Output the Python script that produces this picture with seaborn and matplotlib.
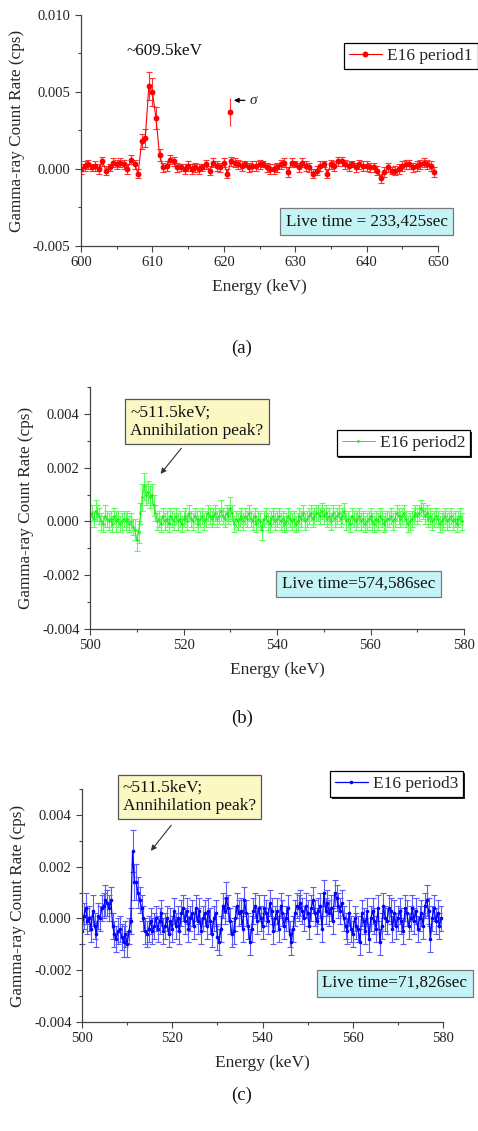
import numpy as np
import pandas as pd
import matplotlib
matplotlib.use("Agg")
import matplotlib.pyplot as plt
import seaborn as sns
from matplotlib.ticker import MultipleLocator, FuncFormatter
from matplotlib.patches import Rectangle
from matplotlib.transforms import IdentityTransform

# ---------------- data (count rates in units of 1e-4 cps) ----------------
# Panel (a): E16 period1, 600-649.5 keV, 0.5 keV bins
a_start, a_step = 600.0, 0.5
a_rate = [0, 2, 3, 1, 2, 0, 5, -1, 1, 4, 3, 4, 3, 0, 6, 3,
          -3, 18, 20, 54, 50, 33, 9, 1,
          2, 6, 5, 1, 1, 0, 2, 0, 1, 0, 1, 3, -1, 4, 2, 1, 4, -3, 5, 4,
          3, 2, 3, 1, 2, 2, 3, 3, 1, 0, 0, 1, 3, 4, -2, 4, 3, 1, 4, 2,
          1, -3, -1, 2, 3, -3, 3, 2, 5, 5, 3, 2, 3, 1, 3, 2, 2, 1, 1, -1,
          -6, -2, 1, -1, -1, 0, 2, 3, 3, 1, 2, 3, 4, 3, 2, -2]
a_err = [3, 3, 3, 2, 3, 3, 3, 3, 2, 3, 3, 3, 3, 3, 3, 3,
         3, 5, 6, 9, 9, 7, 4, 3,
         3, 3, 3, 3, 2, 3, 3, 3, 3, 3, 2, 3, 3, 3, 3, 3, 3, 3, 3, 3,
         3, 3, 2, 3, 3, 3, 3, 2, 3, 3, 3, 3, 3, 3, 3, 3, 2, 3, 3, 3,
         3, 3, 3, 3, 2, 3, 3, 3, 3, 3, 3, 3, 2, 3, 3, 3, 3, 3, 3, 3,
         3, 3, 3, 2, 3, 3, 3, 3, 3, 3, 3, 3, 3, 3, 3, 3]
sigma_energy, sigma_rate, sigma_err = 620.9, 37, 9

# Panel (b): E16 period2, 500-579.6 keV, 0.4 keV bins
b_start, b_step = 500.0, 0.4
b_rate = [2, 3, 1, 4, 3, 2, 0, -1, 2, 1, 0, 1, -1, 2, 0, 1, -1, 0, 1, 0,
          1, -1, 0, -2, -3, -7, -4, 3, 9, 13, 10, 11, 9, 10, 6, 3, 0, 1, -1, 2,
          0, 1, -1, 2, 1, 0, 2, 0, 1, -1, 1, 2, 0, 3, 1, 0, 2, 1, -1, 1,
          2, 0, 1, 3, 2, 1, 2, 3, 1, 2, 4, 2, 1, 3, 2, 5, 3, -1, 1, 0,
          1, 2, 0, 2, 1, 3, 1, 0, 2, -1, 1, 0, -3, 1, 2, 0, -1, 1, 2, 0,
          1, 2, 0, 1, -1, 0, 2, 1, 0, 1, -1, 0, 2, 1, 3, 0, 1, 2, 3, 1,
          2, 3, 3, 2, 4, 2, 3, 1, 2, 0, 3, 1, 2, 3, 1, 2, 4, 0, 1, -1,
          2, 1, 0, 1, 2, 0, 1, -1, 0, 1, 2, 0, -1, 1, 0, 2, 1, -1, 0, 1,
          1, 2, 0, 1, 3, 2, 1, 2, 3, 1, -1, 0, 1, 2, 3, 2, 3, 5, 4, 2,
          3, 1, 2, 0, 1, 2, 1, -1, 0, 1, 2, 0, 1, 2, 0, 1, -1, 1, 2, 0]
b_err = [4, 3, 3, 4, 3, 3, 3, 3, 4, 3, 3, 3, 3, 3, 4, 3, 3, 3, 3, 3,
         3, 3, 3, 3, 4, 4, 4, 4, 5, 5, 4, 4, 4, 4, 4, 3, 3, 3, 3, 3,
         3, 3, 3, 3, 3, 3, 3, 3, 3, 3, 3, 3, 3, 3, 3, 3, 3, 3, 3, 3,
         3, 3, 3, 3, 3, 3, 3, 3, 3, 3, 4, 3, 3, 3, 3, 4, 3, 3, 3, 3,
         3, 3, 3, 3, 3, 3, 3, 3, 3, 3, 3, 3, 4, 3, 3, 3, 3, 3, 3, 3,
         3, 3, 3, 3, 3, 3, 3, 3, 3, 3, 3, 3, 3, 3, 3, 3, 3, 3, 3, 3,
         3, 3, 3, 3, 3, 3, 3, 3, 3, 3, 3, 3, 3, 3, 3, 3, 3, 3, 3, 3,
         3, 3, 3, 3, 3, 3, 3, 3, 3, 3, 3, 3, 3, 3, 3, 3, 3, 3, 3, 3,
         3, 3, 3, 3, 3, 3, 3, 3, 3, 3, 3, 3, 3, 3, 3, 3, 3, 3, 3, 3,
         3, 3, 3, 3, 3, 3, 3, 3, 3, 3, 3, 3, 3, 3, 3, 3, 3, 3, 3, 3]

# Panel (c): E16 period3, 500-579.6 keV, 0.4 keV bins
c_start, c_step = 500.0, 0.4
c_rate = [-5, 1, 4, -1, 0, -4, 3, -3, -6, 1, 0, 4, 5, 7, 6, 4, 7, -3, -6, -8,
          -5, -4, -7, -9, -6, -10, -5, -1, 26, 14, 14, 10, 7, 4, 0, -5, -6, -4, -1, -5,
          -3, 0, -4, -1, 2, -5, -3, 0, -6, -1, -4, 3, -3, 0, -5, 2, 4, -1, 3, -4,
          0, 2, -3, 4, -1, 3, -5, 0, 2, -3, 3, -1, -6, 0, 2, -7, -9, -4, 5, 3,
          8, 4, -1, -6, -5, 0, 5, 2, 3, -4, 7, 2, -3, -9, -4, 3, 5, -1, 4, 0,
          -3, 4, 2, -1, 6, 3, -5, 0, 3, -4, 5, 2, -3, 0, 4, -6, -9, -4, 2, 5,
          4, 6, 3, 0, 5, 2, -3, 4, 7, 2, -1, 3, 5, -4, 10, 3, 6, 2, 4, -1,
          10, 8, 5, 3, 6, 0, -3, -5, 2, -4, -6, 0, -3, -4, -9, 2, -1, -5, 3, -8,
          0, 3, -1, -4, 4, -9, -3, 5, 0, -1, 4, 3, -4, 2, -3, 0, 3, -1, -5, 4,
          2, -3, 0, 4, -1, 3, -4, 0, 2, -3, 5, 7, 3, -8, 0, 4, -1, 2, -3, 0]
c_err = [5, 5, 6, 5, 5, 5, 6, 5, 5, 5, 5, 5, 5, 6, 5, 5, 5, 5, 5, 5,
         5, 5, 5, 6, 5, 5, 5, 5, 8, 7, 7, 6, 5, 5, 5, 5, 5, 5, 5, 5,
         5, 5, 5, 5, 5, 5, 5, 5, 5, 5, 5, 5, 5, 5, 5, 5, 5, 5, 5, 5,
         5, 5, 5, 5, 5, 5, 5, 5, 5, 5, 5, 5, 5, 5, 5, 5, 5, 5, 5, 5,
         6, 5, 5, 5, 5, 5, 5, 5, 5, 5, 5, 5, 5, 5, 5, 5, 5, 5, 5, 5,
         5, 5, 5, 5, 5, 5, 5, 5, 5, 5, 5, 5, 5, 5, 5, 5, 5, 5, 5, 5,
         5, 5, 5, 5, 5, 5, 5, 5, 5, 5, 5, 5, 5, 5, 5, 5, 5, 5, 5, 5,
         5, 5, 5, 5, 5, 5, 5, 5, 5, 5, 5, 5, 5, 5, 5, 5, 5, 5, 5, 5,
         5, 5, 5, 5, 5, 5, 5, 5, 5, 5, 5, 5, 5, 5, 5, 5, 5, 5, 5, 5,
         5, 5, 5, 5, 5, 5, 5, 5, 5, 5, 5, 6, 5, 5, 5, 5, 5, 5, 5, 5]

UNIT = 1e-4

# ---------------- style ----------------
sns.set_style("ticks")
plt.rcParams["font.family"] = ["Liberation Serif", "DejaVu Serif"]
plt.rcParams["axes.edgecolor"] = "#444444"
plt.rcParams["xtick.color"] = "#444444"
plt.rcParams["ytick.color"] = "#444444"
plt.rcParams["xtick.labelcolor"] = "#222222"
plt.rcParams["ytick.labelcolor"] = "#222222"

FIG_W, FIG_H = 478, 1131
fig = plt.figure(figsize=(FIG_W / 100, FIG_H / 100), dpi=100)


def ax_rect(left, top, right, bottom):
    return [left / FIG_W, 1 - bottom / FIG_H, (right - left) / FIG_W, (bottom - top) / FIG_H]


def make_df(start, step, rate, err):
    n = len(rate)
    return pd.DataFrame({
        "energy": [start + step * i for i in range(n)],
        "rate": [r * UNIT for r in rate],
        "err": [e * UNIT for e in err],
    })


def draw_panel(ax, df, color, ecolor, label, ms, lw, xlim, ylim, xmaj, xmin, ymaj, ymin):
    ax.errorbar(df["energy"], df["rate"], yerr=df["err"], fmt="none",
                ecolor=ecolor, elinewidth=0.8, capsize=2.3, capthick=0.8, zorder=1)
    sns.lineplot(data=df, x="energy", y="rate", ax=ax, color=color, marker="o",
                 markersize=ms, markeredgewidth=0, linewidth=lw,
                 estimator=None, sort=False, label=label, zorder=2)
    ax.set_xlim(*xlim)
    ax.set_ylim(*ylim)
    ax.xaxis.set_major_locator(MultipleLocator(xmaj))
    ax.xaxis.set_minor_locator(MultipleLocator(xmin))
    ax.yaxis.set_major_locator(MultipleLocator(ymaj))
    ax.yaxis.set_minor_locator(MultipleLocator(ymin))
    ax.yaxis.set_major_formatter(FuncFormatter(lambda v, p: f"{round(v, 6):.3f}".replace("-0.000", "0.000")))
    ax.tick_params(axis="both", which="major", labelsize=10.5, length=4, width=0.8, direction="out")
    ax.tick_params(axis="both", which="minor", length=2.5, width=0.8, direction="out")
    sns.despine(ax=ax)
    for s in ("left", "bottom"):
        ax.spines[s].set_linewidth(0.9)
    ax.set_xlabel("Energy (keV)", fontsize=12.5, labelpad=7)
    ax.set_ylabel("Gamma-ray Count Rate (cps)", fontsize=12.3, labelpad=6)


legends = []


def legend(ax, x, y):
    lg = ax.legend(loc="upper left", bbox_to_anchor=(x, y), borderaxespad=0,
                   fontsize=12.5, handlelength=1.9, handletextpad=0.3,
                   borderpad=0.28, fancybox=False, frameon=True, shadow=False)
    fr = lg.get_frame()
    fr.set_edgecolor("black")
    fr.set_linewidth(0.9)
    fr.set_alpha(1)
    lg.set_zorder(6)
    legends.append((ax, lg))
    return lg


def live_box(ax, x, y, txt):
    ax.text(x, y, txt, transform=ax.transAxes, ha="center", va="center", fontsize=12.3,
            color="#111111",
            bbox=dict(boxstyle="square,pad=0.32", facecolor="#c4f4f6", edgecolor="#7a7a7a", linewidth=0.9),
            zorder=5)


def note_box(ax, x, y, arrow_from, arrow_to):
    ax.text(x, y, "~511.5keV;\nAnnihilation peak?", transform=ax.transAxes, ha="center", va="center",
            multialignment="left", fontsize=12.5, linespacing=1.15, color="#111111",
            bbox=dict(boxstyle="square,pad=0.3", facecolor="#fbf8c4", edgecolor="#555555", linewidth=0.9),
            zorder=5)
    ax.annotate("", xy=arrow_to, xytext=arrow_from, xycoords="axes fraction", textcoords="axes fraction",
                arrowprops=dict(arrowstyle="-|>", color="#333333", lw=0.8, mutation_scale=8))


# ---------------- panel (a) ----------------
ax_a = fig.add_axes(ax_rect(81, 15, 438, 246))
df_a = make_df(a_start, a_step, a_rate, a_err)
draw_panel(ax_a, df_a, "#ff0000", "#ff3030", "E16 period1", 4.2, 0.8,
           (600, 650), (-0.005, 0.010), 10, 5, 0.005, 0.0025)
ax_a.errorbar([sigma_energy], [sigma_rate * UNIT], yerr=[sigma_err * UNIT], fmt="o",
              color="#ff0000", ecolor="#ff3030", markersize=4.2, markeredgewidth=0,
              elinewidth=0.8, capsize=2.3, capthick=0.8)
ax_a.annotate("σ", xy=(621.4, 0.00446), xytext=(623.6, 0.00446), xycoords="data",
              fontsize=11, fontstyle="italic", va="center", ha="left",
              arrowprops=dict(arrowstyle="-|>", color="black", lw=0.9, mutation_scale=7,
                              shrinkA=1, shrinkB=0))
ax_a.text(0.235, 0.844, "~609.5keV", transform=ax_a.transAxes, ha="center", va="center",
          fontsize=12.3, color="#111111")
legend(ax_a, 0.737, 0.879)
live_box(ax_a, 0.801, 0.106, "Live time = 233,425sec")

# ---------------- panel (b) ----------------
ax_b = fig.add_axes(ax_rect(90, 387, 464, 629))
df_b = make_df(b_start, b_step, b_rate, b_err)
draw_panel(ax_b, df_b, "#22ee22", "#55ff55", "E16 period2", 2.0, 0.7,
           (500, 580), (-0.004, 0.005), 20, 10, 0.002, 0.001)
note_box(ax_b, 0.286, 0.857, (0.249, 0.756), (0.184, 0.632))
legend(ax_b, 0.660, 0.822)
live_box(ax_b, 0.718, 0.186, "Live time=574,586sec")

# ---------------- panel (c) ----------------
ax_c = fig.add_axes(ax_rect(82, 789, 443, 1022))
df_c = make_df(c_start, c_step, c_rate, c_err)
draw_panel(ax_c, df_c, "#0000ff", "#5a5aff", "E16 period3", 2.6, 0.9,
           (500, 580), (-0.004, 0.005), 20, 10, 0.002, 0.001)
note_box(ax_c, 0.298, 0.966, (0.252, 0.854), (0.186, 0.725))
legend(ax_c, 0.687, 1.077)
live_box(ax_c, 0.866, 0.167, "Live time=71,826sec")

# ---------------- captions ----------------
for txt, ypix in (("(a)", 348), ("(b)", 718), ("(c)", 1095)):
    fig.text(242 / FIG_W, 1 - ypix / FIG_H, txt, ha="center", va="center", fontsize=13.5, color="#111111")

# thin Origin-style shadow on right/bottom of each legend box
fig.canvas.draw()
for ax, lg in legends:
    bb = lg.get_frame().get_window_extent()
    sh = Rectangle((bb.x0 + 1.6, bb.y0 - 1.6), bb.width, bb.height, transform=IdentityTransform(),
                   facecolor="#222222", edgecolor="none", clip_on=False, zorder=5.5)
    ax.add_artist(sh)

fig.savefig("out.png", dpi=100)
